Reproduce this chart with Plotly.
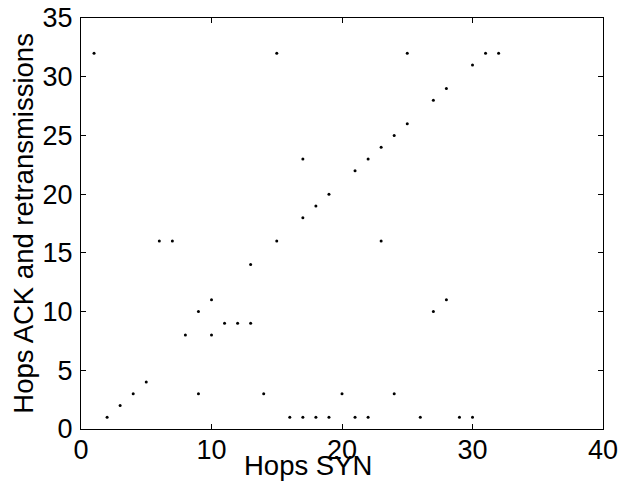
import plotly.graph_objects as go

hops_syn = [1, 15, 25, 31, 32, 30, 28, 27, 25, 24, 23, 22, 21,
            17, 19, 18, 17,
            6, 7, 15, 23, 13, 10, 9, 11, 12, 13, 8, 10, 28, 27,
            5, 4, 9, 14, 20, 24, 3, 2,
            16, 17, 18, 19, 21, 22, 26, 29, 30]
hops_ack = [32, 32, 32, 32, 32, 31, 29, 28, 26, 25, 24, 23, 22,
            23, 20, 19, 18,
            16, 16, 16, 16, 14, 11, 10, 9, 9, 9, 8, 8, 11, 10,
            4, 3, 3, 3, 3, 3, 2, 1,
            1, 1, 1, 1, 1, 1, 1, 1, 1]

x_ticks = [0, 10, 20, 30, 40]
y_ticks = [0, 5, 10, 15, 20, 25, 30, 35]

FONT = "Liberation Sans, Arial, Helvetica, sans-serif"

fig = go.Figure()
fig.add_trace(go.Scatter(
    x=hops_syn, y=hops_ack, mode="markers",
    marker=dict(color="black", size=3, line=dict(width=0)),
    showlegend=False, hoverinfo="x+y"))

axis_common = dict(
    showgrid=False, zeroline=False, showline=True, linecolor="black",
    linewidth=1, mirror="allticks", ticks="inside", ticklen=5,
    tickcolor="black", tickwidth=1,
    tickfont=dict(family=FONT, size=27, color="black"),
)

fig.update_layout(
    width=630, height=483,
    margin=dict(l=81, r=27, t=18, b=54, autoexpand=False),
    paper_bgcolor="white", plot_bgcolor="white",
    xaxis=dict(range=[0, 40], tickvals=x_ticks,
               ticktext=[str(v) for v in x_ticks],
               ticklabelstandoff=-3, **axis_common),
    yaxis=dict(range=[0, 35], tickvals=y_ticks,
               ticktext=[str(v) for v in y_ticks],
               ticklabelstandoff=2, **axis_common),
    annotations=[
        dict(text="Hops SYN", xref="paper", yref="paper", x=0.4354, y=-0.09,
             xanchor="center", yanchor="middle", showarrow=False,
             font=dict(family=FONT, size=27.5, color="black")),
        dict(text="Hops ACK and retransmissions", xref="paper", yref="paper",
             x=-0.11, y=0.501, xanchor="center", yanchor="middle",
             textangle=-90, showarrow=False,
             font=dict(family=FONT, size=27.5, color="black")),
    ],
)

fig.write_html("out.html", config={"displayModeBar": False},
               post_script="document.body.style.margin='0';document.body.style.overflow='hidden';")
